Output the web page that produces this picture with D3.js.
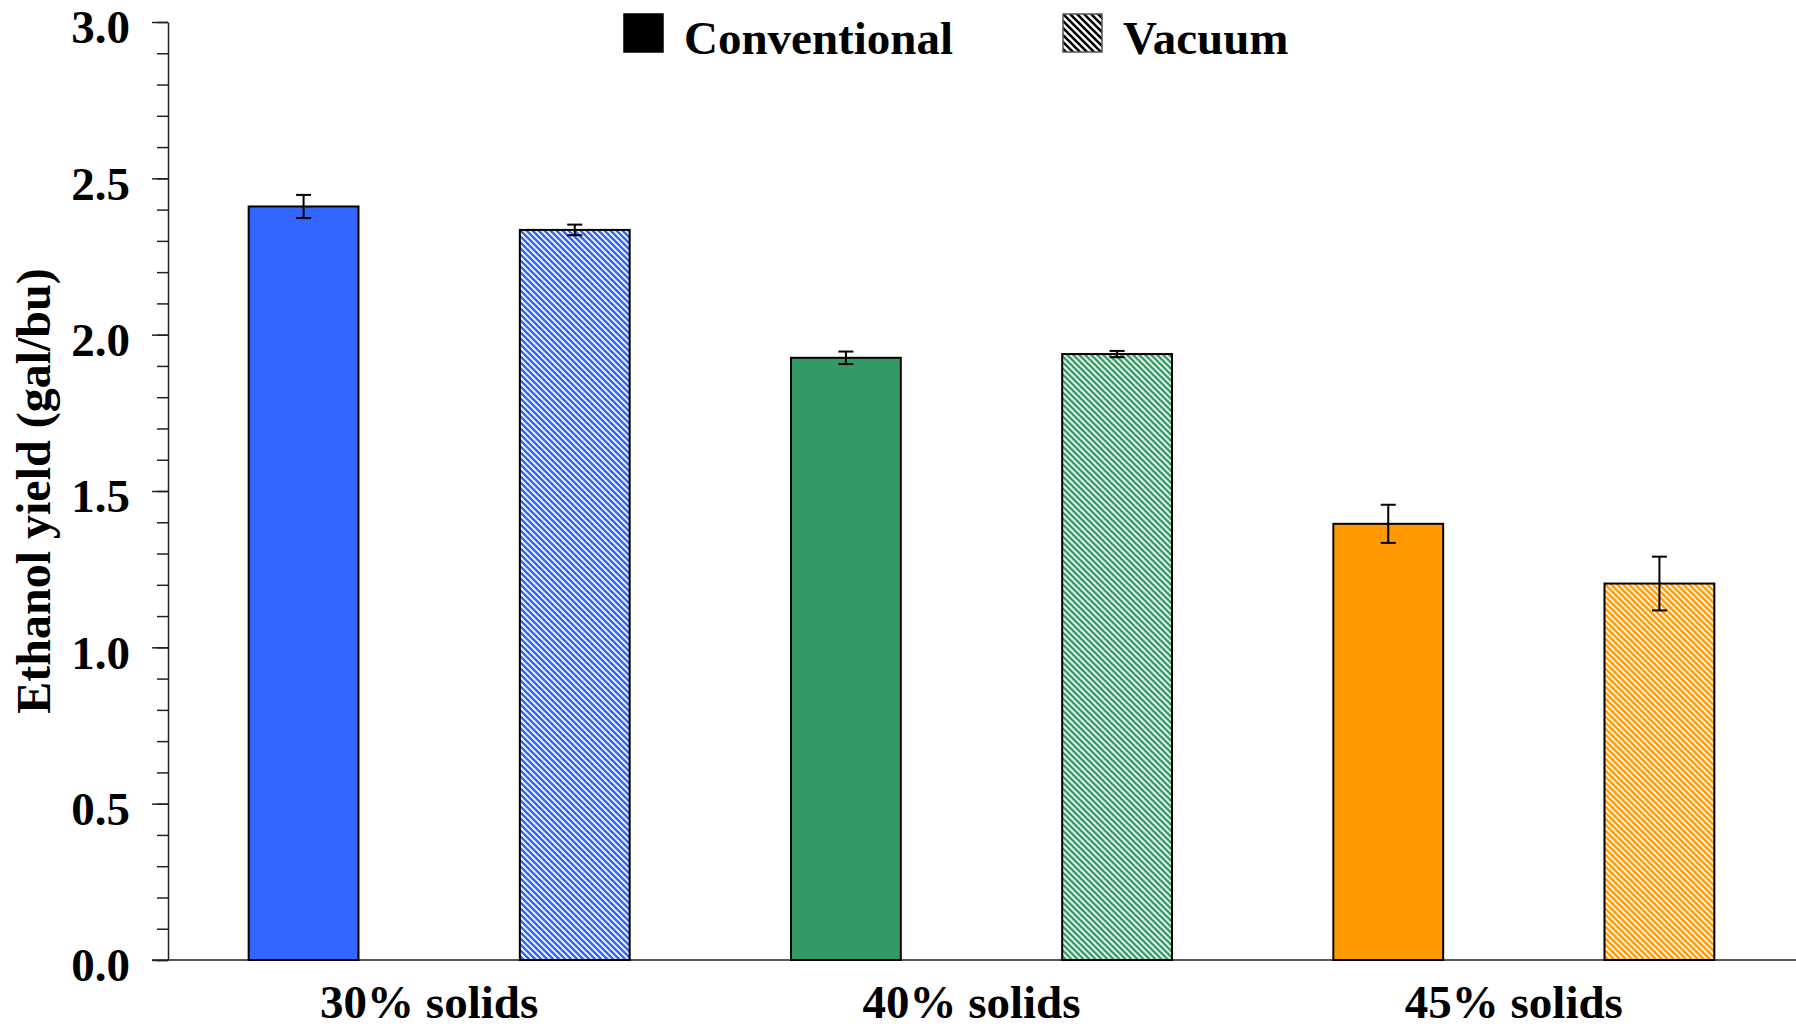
<!DOCTYPE html>
<html>
<head>
<meta charset="utf-8">
<script src="https://cdn.jsdelivr.net/npm/d3@7"></script>
<style>
  body { margin: 0; background: #fff; }
  text { font-family: "Liberation Serif", "Times New Roman", serif; font-weight: bold; }
</style>
</head>
<body>
<div id="chart"></div>
<script>
(function () {

  // data
  const groups = ["30% solids", "40% solids", "45% solids"];
  const series = ["Conventional", "Vacuum"];
  const conventional = [2.41, 1.926, 1.395];
  const conventionalErr = [0.037, 0.02, 0.061];
  const vacuum = [2.335, 1.938, 1.204];
  const vacuumErr = [0.017, 0.01, 0.086];
  const groupColors = ["#3366ff", "#339966", "#ff9900"];
  const yMajor = [0, 0.5, 1.0, 1.5, 2.0, 2.5, 3.0];
  const yMinor = d3.range(0, 31).map(d => d / 10);

  const W = 1796, H = 1030;
  const margin = { top: 22, right: 1, bottom: 70, left: 168 },
    width = W - margin.left - margin.right,
    height = H - margin.top - margin.bottom;

  const svg = d3.select("#chart")
    .append("svg")
    .attr("width", W)
    .attr("height", H);

  // hatch patterns
  const defs = svg.append("defs");
  const hatch = (id, color, size, sw) => {
    const p = defs.append("pattern")
      .attr("id", id)
      .attr("patternUnits", "userSpaceOnUse")
      .attr("width", size).attr("height", size);
    p.append("rect").attr("width", size).attr("height", size).attr("fill", "#fff");
    p.append("path")
      .attr("d", `M-1,-1L${size + 1},${size + 1}M-1,${size - 1}L1,${size + 1}M${size - 1},-1L${size + 1},1`)
      .attr("stroke", color).attr("stroke-width", sw);
  };
  groupColors.forEach((c, i) => hatch("hatch" + i, c, 6, 2.6));
  hatch("hatchLegend", "#000", 7, 2.6);

  const g = svg.append("g")
    .attr("transform", `translate(${margin.left},${margin.top})`);

  // scales
  const x0 = d3.scaleBand()
    .domain(groups)
    .range([0, width]);
  const x1 = d3.scaleBand()
    .domain(series)
    .range([0, x0.bandwidth()])
    .paddingInner(0.595)
    .paddingOuter(0.2975);
  const y = d3.scaleLinear()
    .domain([0, 3])
    .range([height, 0]);

  // minor ticks
  g.append("g")
    .call(d3.axisLeft(y).tickValues(yMinor).tickSize(11).tickFormat(""))
    .call(a => a.select(".domain").remove())
    .selectAll("line").attr("stroke", "#222").attr("stroke-width", 1.5);

  // major ticks + labels
  const ya = g.append("g")
    .call(d3.axisLeft(y).tickValues(yMajor).tickSize(16).tickPadding(22).tickSizeOuter(0).tickFormat(d3.format(".1f")));
  ya.select(".domain").attr("stroke", "#222").attr("stroke-width", 1.5);
  ya.selectAll("line").attr("stroke", "#222").attr("stroke-width", 1.5);
  ya.selectAll("text")
    .attr("fill", "#000")
    .attr("dy", "0.44em")
    .style("font-size", "47px")
    .style("font-family", "'Liberation Serif', serif")
    .style("font-weight", "bold");

  // baseline
  g.append("line")
    .attr("x1", -16).attr("x2", width + margin.right)
    .attr("y1", y(0)).attr("y2", y(0))
    .attr("stroke", "#222").attr("stroke-width", 1.5);

  // bars
  const rows = groups.map((grp, i) => ({
    grp, i,
    vals: [
      { s: series[0], v: conventional[i], e: conventionalErr[i] },
      { s: series[1], v: vacuum[i], e: vacuumErr[i] }
    ]
  }));

  const gg = g.selectAll("g.grp")
    .data(rows)
    .join("g")
    .attr("class", "grp")
    .attr("transform", d => `translate(${x0(d.grp)},0)`);

  const bar = gg.selectAll("g.bar")
    .data(d => d.vals.map(v => Object.assign({ i: d.i }, v)))
    .join("g")
    .attr("class", "bar");

  bar.append("rect")
    .attr("x", d => x1(d.s))
    .attr("y", d => y(d.v))
    .attr("width", x1.bandwidth())
    .attr("height", d => y(0) - y(d.v))
    .attr("fill", d => d.s === "Vacuum" ? `url(#hatch${d.i})` : groupColors[d.i])
    .attr("stroke", "#000")
    .attr("stroke-width", 2);

  // error bars
  const cx = d => x1(d.s) + x1.bandwidth() / 2;
  bar.append("line")
    .attr("x1", cx).attr("x2", cx)
    .attr("y1", d => y(d.v + d.e)).attr("y2", d => y(d.v - d.e))
    .attr("stroke", "#000").attr("stroke-width", 2);
  bar.selectAll("line.cap")
    .data(d => [d.v + d.e, d.v - d.e].map(t => ({ d, t })))
    .join("line")
    .attr("class", "cap")
    .attr("x1", o => cx(o.d) - 7.5).attr("x2", o => cx(o.d) + 7.5)
    .attr("y1", o => y(o.t)).attr("y2", o => y(o.t))
    .attr("stroke", "#000").attr("stroke-width", 2);

  // x labels
  g.selectAll("text.xlab")
    .data(groups)
    .join("text")
    .attr("class", "xlab")
    .attr("x", d => x0(d) + x0.bandwidth() / 2 - 10)
    .attr("y", height + 58)
    .attr("text-anchor", "middle")
    .style("font-size", "47px")
    .text(d => d);

  // y title
  svg.append("text")
    .attr("transform", `translate(50,${margin.top + height / 2}) rotate(-90)`)
    .attr("text-anchor", "middle")
    .style("font-size", "48px")
    .text("Ethanol yield (gal/bu)");

  // legend
  const legX = [624, 1063];
  const leg = svg.selectAll("g.leg")
    .data(series)
    .join("g")
    .attr("class", "leg")
    .attr("transform", (d, i) => `translate(${legX[i]},14)`);
  leg.append("rect")
    .attr("width", 39).attr("height", 38)
    .attr("fill", (d, i) => i === 0 ? "#000" : "url(#hatchLegend)")
    .attr("stroke", (d, i) => i === 0 ? "#000" : "#555").attr("stroke-width", 1.5);
  leg.append("text")
    .attr("x", 60).attr("y", 40)
    .style("font-size", "47px")
    .text(d => d);

})();
</script>
</body>
</html>
